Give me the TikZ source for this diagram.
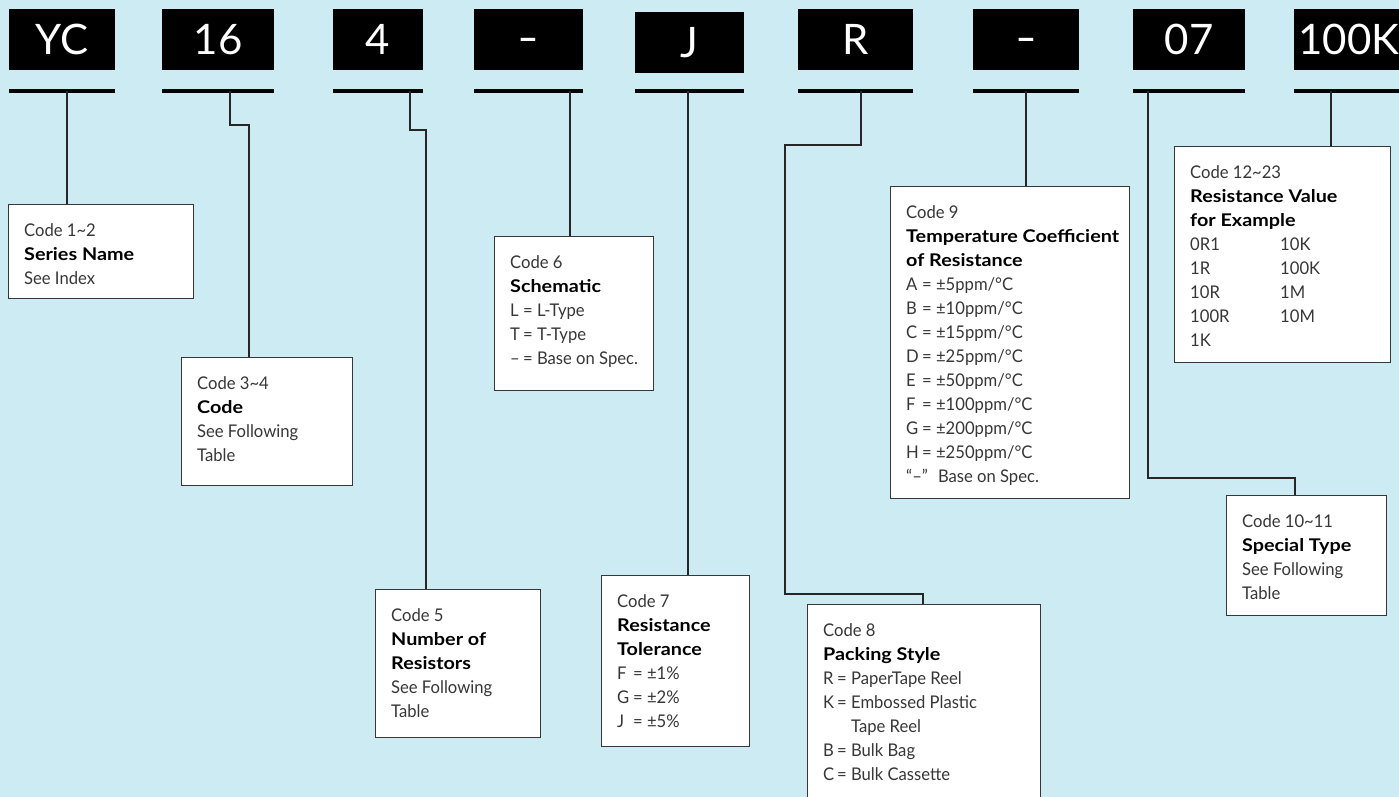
\documentclass[tikz,border=0pt]{standalone}
\usepackage{fontspec}
\setmainfont{Lato}[UprightFeatures={FakeStretch=0.95},BoldFeatures={FakeStretch=1.13}]
\newfontfamily\hdrfont{Lato}
\usepackage{xcolor}

\definecolor{bgblue}{RGB}{204,235,242}
\definecolor{boxline}{RGB}{55,55,55}
\definecolor{bodygray}{RGB}{55,55,55}

\tikzset{
  hdr/.style={fill=black, text=white, minimum height=61pt, inner sep=0pt,
    text height=30.5pt, text depth=0pt, font=\hdrfont\fontsize{42}{42}\selectfont},
  uline/.style={line width=4pt},
  wire/.style={line width=1.1pt, draw=black!85},
  codebox/.style={draw=boxline, line width=1.3pt, fill=white, anchor=north west, inner sep=0pt},
  codetext/.style={anchor=north west, inner sep=0pt, align=left, text=bodygray,
    font=\fontsize{17.5}{24}\selectfont},
}
\newcommand{\hd}[1]{{\bfseries\color{black}#1}}
\newcommand{\kv}[3][16pt]{\makebox[#1][l]{#2}= #3}
\newcommand{\fst}{\rule{0pt}{18pt}}
\newcommand{\dashfield}{\raisebox{2pt}{\scalebox{1.4}[1]{-}}}

\begin{document}
\begin{tikzpicture}[x=1pt,y=-1pt]
    \path[use as bounding box, fill=bgblue] (0,0) rectangle (1399,797);
    % Part number, one black field per code group
    \node[hdr, minimum width=106pt] (hYC) at (62,39.5) {YC};
    \node[hdr, minimum width=112pt] (h16) at (218,39.5) {16};
    \node[hdr, minimum width=90pt] (h4) at (378,39.5) {4};
    \node[hdr, minimum width=109pt] (hD1) at (528.5,39.5) {\dashfield};
    \node[hdr, minimum width=109pt] (hJ) at (689.5,42.5) {J};
    \node[hdr, minimum width=115pt] (hR) at (855.5,39.5) {R};
    \node[hdr, minimum width=106pt] (hD2) at (1026,39.5) {\dashfield};
    \node[hdr, minimum width=112pt] (h07) at (1189,39.5) {07};
    \node[hdr, minimum width=110pt] (h100) at (1349,39.5) {100K};
    % Underlines
    \coordinate (ul) at (0,91);
    \foreach \h in {hYC,h16,h4,hD1,hJ,hR,hD2,h07,h100}
      \draw[uline] (\h.west |- ul) -- (\h.east |- ul);
    % Where the leads leave the underlines, and their bends
    \coordinate (tYC) at (67,91);
    \coordinate (t16) at (230,91);
    \coordinate (k16) at (249,125);
    \coordinate (t4) at (410,91);
    \coordinate (k4) at (426,130);
    \coordinate (tD1) at (570,91);
    \coordinate (tJ) at (688,91);
    \coordinate (tR) at (861,91);
    \coordinate (kR1) at (785,145);
    \coordinate (kR2) at (923,594);
    \coordinate (tD2) at (1026,91);
    \coordinate (t07) at (1148,91);
    \coordinate (k07) at (1295,478);
    \coordinate (t100) at (1331,91);
    % Description boxes
    \node[codebox, minimum width=185pt, minimum height=94pt] (c12) at (8,204) {};
    \node[codebox, minimum width=171pt, minimum height=128pt] (c34) at (181,357) {};
    \node[codebox, minimum width=159pt, minimum height=154pt] (c6) at (494,236) {};
    \node[codebox, minimum width=165pt, minimum height=148pt] (c5) at (375,589) {};
    \node[codebox, minimum width=148pt, minimum height=171pt] (c7) at (601,575) {};
    \node[codebox, minimum width=233pt, minimum height=210pt] (c8) at (807,604) {};
    \node[codebox, minimum width=239pt, minimum height=312pt] (c9) at (890,186) {};
    \node[codebox, minimum width=160pt, minimum height=120pt] (c1011) at (1226,495) {};
    \node[codebox, minimum width=216pt, minimum height=216pt] (c1223) at (1174,146) {};
    % Leads
    \draw[wire] (tYC) -- (tYC |- c12.north);
    \draw[wire] (t16) |- (k16) -- (k16 |- c34.north);
    \draw[wire] (t4) |- (k4) -- (k4 |- c5.north);
    \draw[wire] (tD1) -- (tD1 |- c6.north);
    \draw[wire] (tJ) -- (tJ |- c7.north);
    \draw[wire] (tR) |- (kR1) |- (kR2) -- (kR2 |- c8.north);
    \draw[wire] (tD2) -- (tD2 |- c9.north);
    \draw[wire] (t07) |- (k07) -- (k07 |- c1011.north);
    \draw[wire] (t100) -- (t100 |- c1223.north);
    % Box texts
    \node[codetext] (c12t) at ([shift={(16,14)}]c12.north west)
      {\fst Code 1\textasciitilde2\\ \hd{Series Name}\\ See Index};
    \node[codetext] (c34t) at ([shift={(16,14)}]c34.north west)
      {\fst Code 3\textasciitilde4\\ \hd{Code}\\ See Following\\ Table};
    \node[codetext] (c6t) at ([shift={(16,14)}]c6.north west)
      {\fst Code 6\\ \hd{Schematic}\\ \kv[13pt]{L}{L-Type}\\ \kv[13pt]{T}{T-Type}\\
       \kv[13pt]{–}{Base on Spec.}};
    \node[codetext] (c5t) at ([shift={(16,14)}]c5.north west)
      {\fst Code 5\\ \hd{Number of}\\ \hd{Resistors}\\ See Following\\ Table};
    \node[codetext] (c7t) at ([shift={(16,14)}]c7.north west)
      {\fst Code 7\\ \hd{Resistance}\\ \hd{Tolerance}\\ \kv{F}{±1\%}\\ \kv{G}{±2\%}\\ \kv{J}{±5\%}};
    \node[codetext] (c8t) at ([shift={(16,14)}]c8.north west)
      {\fst Code 8\\ \hd{Packing Style}\\ \kv[14pt]{R}{PaperTape Reel}\\ \kv[14pt]{K}{Embossed Plastic}\\
       \phantom{\kv[14pt]{K}{}}Tape Reel\\ \kv[14pt]{B}{Bulk Bag}\\ \kv[14pt]{C}{Bulk Cassette}};
    \node[codetext] (c9t) at ([shift={(16,14)}]c9.north west)
      {\fst Code 9\\ \hd{Temperature Coefficient}\\ \hd{of Resistance}\\
       \kv{A}{±5ppm/°C}\\ \kv{B}{±10ppm/°C}\\ \kv{C}{±15ppm/°C}\\ \kv{D}{±25ppm/°C}\\
       \kv{E}{±50ppm/°C}\\ \kv{F}{±100ppm/°C}\\ \kv{G}{±200ppm/°C}\\ \kv{H}{±250ppm/°C}\\
       “–”\hspace{10pt}Base on Spec.};
    \node[codetext] (c1011t) at ([shift={(16,14)}]c1011.north west)
      {\fst Code 10\textasciitilde11\\ \hd{Special Type}\\ See Following\\ Table};
    \node[codetext] (c1223t) at ([shift={(16,14)}]c1223.north west)
      {\fst Code 12\textasciitilde23\\ \hd{Resistance Value}\\ \hd{for Example}\\
       \makebox[90pt][l]{0R1}10K\\ \makebox[90pt][l]{1R}100K\\ \makebox[90pt][l]{10R}1M\\
       \makebox[90pt][l]{100R}10M\\ 1K};
\end{tikzpicture}
\end{document}
